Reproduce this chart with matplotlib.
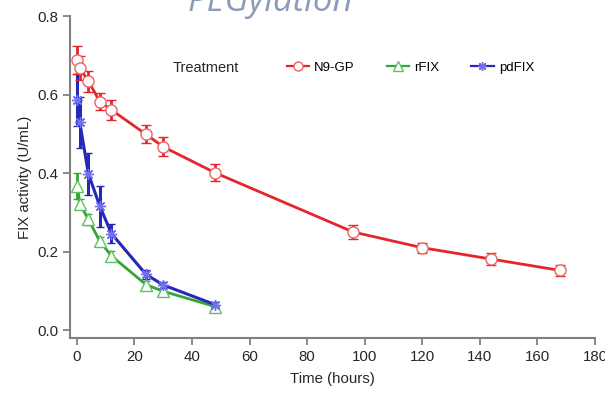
import numpy as np
import matplotlib.pyplot as plt
from matplotlib.lines import Line2D

plt.rcParams['font.family'] = ['Liberation Sans', 'DejaVu Sans']

# sampling times (hours)
t_n9gp = [0.17, 1, 4, 8, 12, 24, 30, 48, 96, 120, 144, 168]
t_short = [0.17, 1, 4, 8, 12, 24, 30, 48]

# mean FIX activity (U/mL) and error bar half-widths
n9gp = [0.688, 0.668, 0.634, 0.582, 0.561, 0.499, 0.467, 0.401, 0.250, 0.210, 0.181, 0.152]
n9gp_err = [0.035, 0.030, 0.027, 0.021, 0.025, 0.023, 0.024, 0.022, 0.017, 0.013, 0.015, 0.015]

rfix = [0.368, 0.322, 0.282, 0.226, 0.189, 0.116, 0.099, 0.060]
rfix_err = [0.033, 0.012, 0.015, 0.012, 0.012, 0.008, 0.006, 0.005]

pdfix = [0.587, 0.529, 0.398, 0.315, 0.246, 0.142, 0.115, 0.065]
pdfix_err = [0.066, 0.064, 0.053, 0.052, 0.025, 0.011, 0.008, 0.006]

red = '#e4262c'
green = '#35a538'
blue = '#2727b8'

fig = plt.figure(figsize=(6.05, 4.03), dpi=100)
ax = fig.add_axes([0.1157, 0.1613, 0.8678, 0.7987])

styles = {
    'N9-GP': dict(color=red, marker='o', ms=8, mfc='white', mec='#f06060'),
    'rFIX': dict(color=green, marker='^', ms=8, mfc='white', mec='#5cc45c'),
    'pdFIX': dict(color=blue, marker=(8, 2, 0), ms=8, mec='#7070f0'),
}

ax.errorbar(t_short, rfix, yerr=rfix_err, lw=2, elinewidth=2, capsize=3,
            capthick=2, mew=1, zorder=3, **styles['rFIX'])
ax.errorbar(t_short, pdfix, yerr=pdfix_err, lw=2.2, elinewidth=2.2, capsize=3,
            capthick=2, mew=1, zorder=4, **styles['pdFIX'])
ax.errorbar(t_n9gp, n9gp, yerr=n9gp_err, lw=2, elinewidth=2, capsize=3.5,
            capthick=2, mew=1, zorder=5, **styles['N9-GP'])

ax.set_xlim(-2.4, 180)
ax.set_ylim(-0.02, 0.8)
ax.set_xticks(np.arange(0, 181, 20))
ax.set_yticks([0.0, 0.2, 0.4, 0.6, 0.8])
ax.set_yticklabels(['0.0', '0.2', '0.4', '0.6', '0.8'])

for side in ['top', 'right']:
    ax.spines[side].set_visible(False)
for side in ['left', 'bottom']:
    ax.spines[side].set_color('#808080')
    ax.spines[side].set_linewidth(1.5)
ax.tick_params(colors='#808080', width=1.3, length=5, labelsize=10.8,
               labelcolor='#262626')

ax.set_xlabel('Time (hours)', fontsize=10.8, color='#262626', labelpad=6)
ax.set_ylabel('FIX activity (U/mL)', fontsize=10.8, color='#262626', labelpad=4)

# horizontal legend (plain line + marker), title set off to the left
names = ['N9-GP', 'rFIX', 'pdFIX']
handles = [Line2D([], [], lw=1.6, mew=1, **dict(styles[n], ms=6.5)) for n in names]
ax.legend(handles, names, ncol=3, frameon=False, fontsize=9.5, loc='center left',
          bbox_to_anchor=(0.39, 0.84), handlelength=1.7, columnspacing=2.4,
          handletextpad=0.4)
ax.text(0.195, 0.84, 'Treatment', transform=ax.transAxes, fontsize=10.5,
        color='#262626', va='center')

fig.text(0.31, 0.972, 'PEGylation', fontsize=25, style='italic',
         family='Open Sans', color='#8b9cb8')

fig.savefig('out.png', dpi=100)
